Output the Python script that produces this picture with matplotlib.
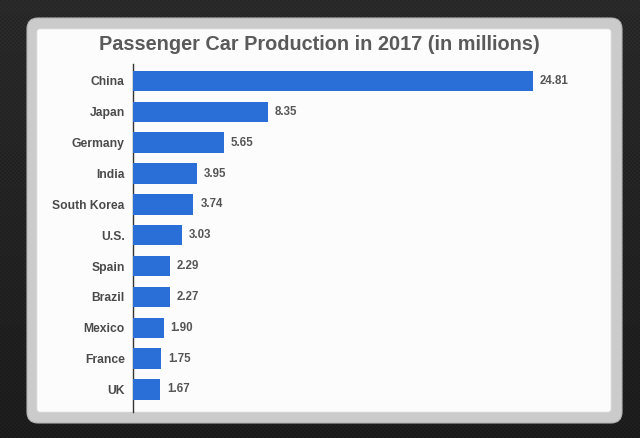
import numpy as np
import matplotlib
matplotlib.use("Agg")
import matplotlib.pyplot as plt
from matplotlib.patches import FancyBboxPatch

countries = ["China", "Japan", "Germany", "India", "South Korea", "U.S.",
             "Spain", "Brazil", "Mexico", "France", "UK"]
production = [24.81, 8.35, 5.65, 3.95, 3.74, 3.03, 2.29, 2.27, 1.90, 1.75, 1.67]
title = "Passenger Car Production in 2017 (in millions)"

plt.rcParams['font.family'] = ['Liberation Sans', 'DejaVu Sans']

W, H = 640, 438
fig = plt.figure(figsize=(W / 100, H / 100), dpi=100)

# background (pixel coordinates)
bg = fig.add_axes([0, 0, 1, 1])
bg.set_xlim(0, W)
bg.set_ylim(H, 0)
bg.axis('off')
yy, xx = np.mgrid[0:H, 0:W]
tex = 0.15 - 0.05 * (yy / H) + 0.02 * (((xx // 2) + (yy // 2)) % 2)
bg.imshow(tex, cmap='gray', vmin=0, vmax=1, extent=(0, W, H, 0),
          aspect='auto', interpolation='nearest', zorder=0)

frame = FancyBboxPatch((27, 18), 595, 405,
                       boxstyle="round,pad=0,rounding_size=11",
                       facecolor="#cbcbcb", edgecolor="#b5b5b5", lw=0.8, zorder=1)
bg.add_patch(frame)
inner = FancyBboxPatch((37, 29), 574, 383,
                       boxstyle="round,pad=0,rounding_size=3",
                       facecolor="#fcfcfc", edgecolor="#e2e2e2", lw=0.6, zorder=2)
bg.add_patch(inner)

bg.text(319, 45, title, ha='center', va='center', fontsize=14.3,
        fontweight='bold', color='#5a5a5a', zorder=3)

# chart axes
left, right, top, bottom = 133, 600, 64, 412
ax = fig.add_axes([left / W, 1 - bottom / H, (right - left) / W, (bottom - top) / H])
ax.patch.set_alpha(0)
px_per_unit = 400 / 24.81
ax.set_xlim(0, (right - left) / px_per_unit)
ax.set_ylim(10.73, -0.551)

ypos = np.arange(len(countries))
ax.barh(ypos, production, height=0.665, color="#2a6fd8", zorder=3)
for y, v in zip(ypos, production):
    ax.text(v + 7 / px_per_unit, y, f"{v:.2f}", va='center', ha='left',
            fontsize=8.3, fontweight='bold', color='#555555')

ax.set_yticks(ypos)
ax.set_yticklabels(countries, fontsize=8.7, fontweight='bold', color='#4a4a4a')
ax.tick_params(axis='y', length=0, pad=6)
ax.set_xticks([])
for s in ['top', 'right', 'bottom']:
    ax.spines[s].set_visible(False)
ax.spines['left'].set_color('#333333')
ax.spines['left'].set_linewidth(1.0)

fig.savefig("out.png", dpi=100)
